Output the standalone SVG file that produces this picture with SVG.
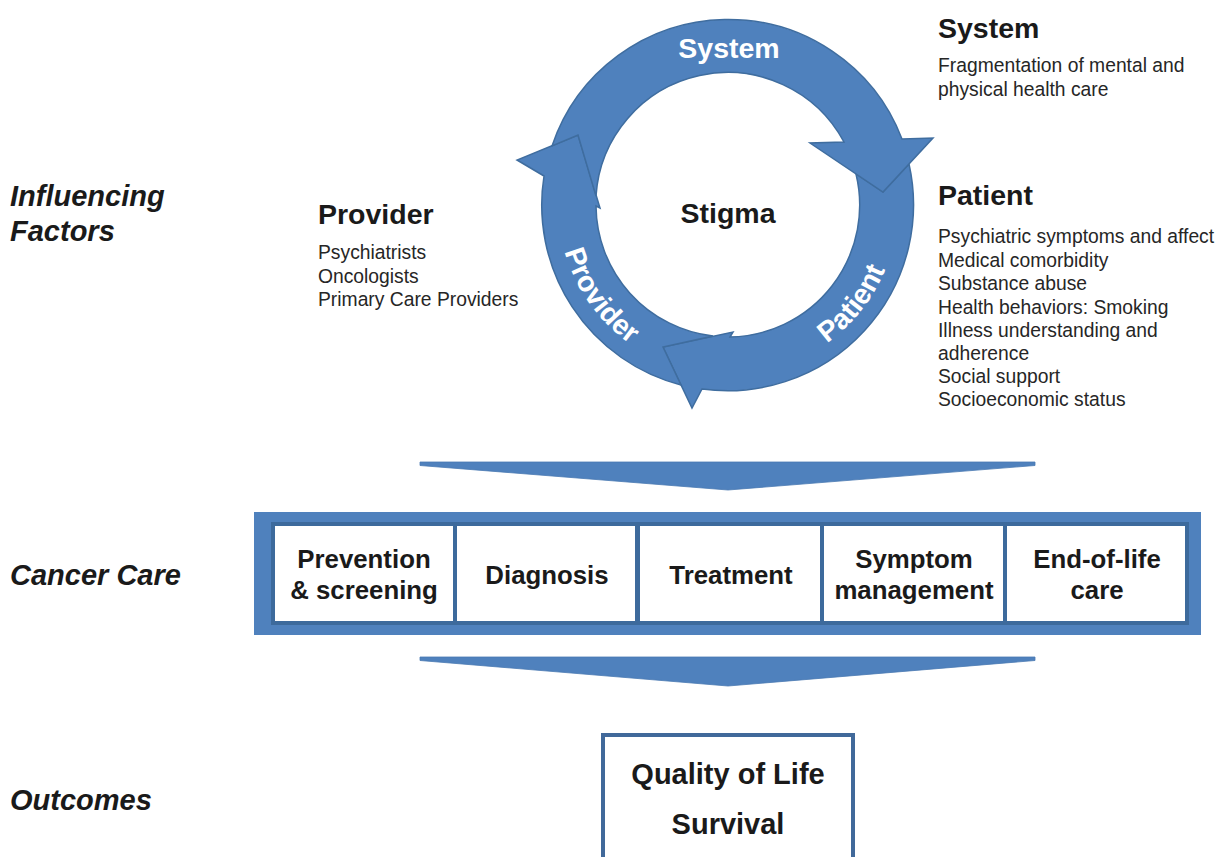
<svg xmlns="http://www.w3.org/2000/svg" width="1227" height="857" viewBox="0 0 1227 857">
  <defs>
    <style>
      .arrow { fill: #4f81bd; stroke: #3f6d9f; stroke-width: 1.5; stroke-linejoin: miter; }
      .wedge { fill: #4f81bd; stroke: #4a7ab3; stroke-width: 0.8; }
      .ringlbl { font-family: "Liberation Sans", Arial, sans-serif; font-weight: bold; font-size: 28.5px; fill: #ffffff; }
      .title { font-family: "Liberation Sans", Arial, sans-serif; font-weight: bold; font-size: 28.5px; fill: #1a1a1a; }
      .body { font-family: "Liberation Sans", Arial, sans-serif; font-size: 19.3px; fill: #262626; }
      .side { font-family: "Liberation Sans", Arial, sans-serif; font-weight: bold; font-style: italic; font-size: 29px; fill: #1a1a1a; }
      .cell { fill: #ffffff; }
      .celltxt { font-family: "Liberation Sans", Arial, sans-serif; font-weight: bold; font-size: 25.8px; fill: #1a1a1a; text-anchor: middle; }
      .outtxt { font-family: "Liberation Sans", Arial, sans-serif; font-weight: bold; font-size: 29px; fill: #1a1a1a; text-anchor: middle; }
    </style>
    <path id="lowerArc" d="M558,205 A170,170 0 0 0 728,375 A170,170 0 0 0 898,205" fill="none"/>
  </defs>

  <rect x="0" y="0" width="1227" height="857" fill="#ffffff"/>

  <!-- Side labels -->
  <g id="side-labels">
    <text class="side" x="10" y="206">Influencing</text>
    <text class="side" x="10" y="241">Factors</text>
    <text class="side" x="10" y="585">Cancer Care</text>
    <text class="side" x="10" y="810">Outcomes</text>
  </g>

  <!-- Cycle of curved arrows -->
  <g id="cycle">
    <path id="arrow-patient" class="arrow" d="M909,164 A186,186 0 0 1 702,389 L692,408 L663,347 L733,332 L730,337 A132,132 0 0 0 856,174 L883,192 Z"/>
    <path id="arrow-provider" class="arrow" d="M681,385 A186,186 0 0 1 544,176 L517,160 L578,135 L600,208 L596,206 A132,132 0 0 0 713,336 L663,347 Z"/>
    <path id="arrow-system" class="arrow" d="M552,146 A186,186 0 0 1 902,139 L933,138 L883,192 L810,143 L844,142 A132,132 0 0 0 596,196 L578,135 Z"/>
    <text class="ringlbl" x="729" y="58" text-anchor="middle">System</text>
    <text class="ringlbl" text-anchor="middle"><textPath href="#lowerArc" startOffset="105">Provider</textPath></text>
    <text class="ringlbl" text-anchor="middle"><textPath href="#lowerArc" startOffset="420">Patient</textPath></text>
  </g>

  <g id="stigma">
    <text class="title" x="728" y="223" text-anchor="middle">Stigma</text>
  </g>

  <g id="system-factors">
    <text class="title" x="938" y="38">System</text>
    <text class="body" x="938" y="72">Fragmentation of mental and</text>
    <text class="body" x="938" y="96">physical health care</text>
  </g>

  <g id="patient-factors">
    <text class="title" x="938" y="205">Patient</text>
    <text class="body" x="938" y="243">Psychiatric symptoms and affect</text>
    <text class="body" x="938" y="266.5">Medical comorbidity</text>
    <text class="body" x="938" y="290">Substance abuse</text>
    <text class="body" x="938" y="313.5">Health behaviors: Smoking</text>
    <text class="body" x="938" y="337">Illness understanding and</text>
    <text class="body" x="938" y="359.5">adherence</text>
    <text class="body" x="938" y="383">Social support</text>
    <text class="body" x="938" y="406">Socioeconomic status</text>
  </g>

  <g id="provider-factors">
    <text class="title" x="318" y="224">Provider</text>
    <text class="body" x="318" y="259">Psychiatrists</text>
    <text class="body" x="318" y="282.5">Oncologists</text>
    <text class="body" x="318" y="306">Primary Care Providers</text>
  </g>

  <!-- Connectors (wedge arrows) -->
  <g id="connectors">
    <polygon class="wedge" points="420,462 1035,462 1035,465.5 728,490 420,465.5"/>
    <polygon class="wedge" points="420,657 1035,657 1035,660.5 728,686 420,660.5"/>
  </g>

  <!-- Cancer care -->
  <g id="cancer-care">
    <rect x="254" y="512" width="947" height="123" fill="#4f81bd"/>
    <rect x="271" y="522" width="918" height="103" fill="#3d6a9c"/>
    <rect class="cell" x="275" y="526" width="178" height="95"/>
    <rect class="cell" x="457" y="526" width="178" height="95"/>
    <rect class="cell" x="640" y="526" width="180" height="95"/>
    <rect class="cell" x="824" y="526" width="179" height="95"/>
    <rect class="cell" x="1007" y="526" width="178" height="95"/>
    <text class="celltxt" x="364" y="568">Prevention</text>
    <text class="celltxt" x="364" y="599">&amp; screening</text>
    <text class="celltxt" x="547" y="584">Diagnosis</text>
    <text class="celltxt" x="731" y="584">Treatment</text>
    <text class="celltxt" x="914" y="568">Symptom</text>
    <text class="celltxt" x="914" y="599">management</text>
    <text class="celltxt" x="1097" y="568">End-of-life</text>
    <text class="celltxt" x="1097" y="599">care</text>
  </g>

  <!-- Outcomes -->
  <g id="outcomes">
    <rect x="603" y="735" width="250" height="130" fill="#ffffff" stroke="#41699a" stroke-width="4"/>
    <text class="outtxt" x="728" y="784">Quality of Life</text>
    <text class="outtxt" x="728" y="834">Survival</text>
  </g>
</svg>
